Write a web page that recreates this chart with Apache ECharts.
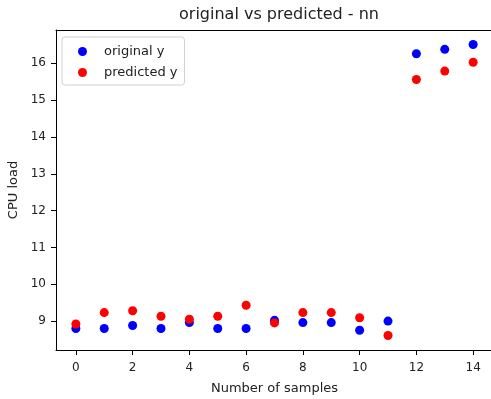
<!DOCTYPE html>
<html>
<head>
<meta charset="utf-8">
<script src="https://cdn.jsdelivr.net/npm/echarts@6/dist/echarts.min.js"></script>
<style>
  html, body { margin: 0; padding: 0; background: #fff; }
  #chart { width: 491px; height: 399px; }
</style>
</head>
<body>
<div id="chart"></div>
<script>
const samples = [0, 1, 2, 3, 4, 5, 6, 7, 8, 9, 10, 11, 12, 13, 14];
const originalY = [8.80, 8.80, 8.88, 8.80, 8.96, 8.80, 8.80, 9.02, 8.96, 8.96, 8.75, 9.00, 16.26, 16.38, 16.51];
const predictedY = [8.92, 9.23, 9.28, 9.13, 9.05, 9.13, 9.43, 8.95, 9.23, 9.23, 9.09, 8.61, 15.56, 15.79, 16.03];
const xTicks = [0, 2, 4, 6, 8, 10, 12, 14];
const yTicks = [9, 10, 11, 12, 13, 14, 15, 16];

const font = 'DejaVu Sans';
const ink = '#222';

const toPairs = (ys) => samples.map((x, i) => [x, ys[i]]);

const chart = echarts.init(document.getElementById('chart'), null, { renderer: 'canvas' });

const option = {
  backgroundColor: '#ffffff',
  animation: false,
  title: {
    text: 'original vs predicted - nn',
    left: 274,
    textAlign: 'center',
    top: 2,
    textStyle: { fontFamily: font, fontSize: 16, fontWeight: 'normal', color: ink }
  },
  legend: {
    orient: 'vertical',
    left: 62,
    top: 37,
    padding: [8, 7, 6, 16],
    itemGap: 8,
    itemWidth: 9,
    itemHeight: 9,
    borderColor: '#d0d0d0',
    borderWidth: 1,
    borderRadius: 3,
    icon: 'circle',
    textStyle: { fontFamily: font, fontSize: 13, color: ink, padding: [0, 0, 0, 12] },
    data: ['original y', 'predicted y']
  },
  grid: {
    left: 56,
    top: 30,
    width: 437,
    height: 320,
    outerBoundsMode: 'none'
  },
  xAxis: [
    {
      type: 'value',
      min: -0.7,
      max: 14.7,
      name: 'Number of samples',
      nameLocation: 'middle',
      nameGap: 32,
      nameTextStyle: { fontFamily: font, fontSize: 13, color: ink },
      splitLine: { show: false },
      axisLine: { onZero: false, lineStyle: { color: '#000' } },
      axisTick: { length: 5, lineStyle: { color: '#000' }, customValues: xTicks },
      axisLabel: { fontFamily: font, fontSize: 12, color: ink, margin: 12, customValues: xTicks }
    },
    {
      // top spine only
      type: 'value',
      position: 'top',
      min: -0.7,
      max: 14.7,
      splitLine: { show: false },
      axisLine: { onZero: false, lineStyle: { color: '#000' } },
      axisTick: { show: false },
      axisLabel: { show: false }
    }
  ],
  yAxis: {
    type: 'value',
    min: 8.215,
    max: 16.905,
    name: 'CPU load',
    nameLocation: 'middle',
    nameRotate: 90,
    nameGap: 28,
    nameTextStyle: { fontFamily: font, fontSize: 13, color: ink },
    splitLine: { show: false },
    axisLine: { show: true, onZero: false, lineStyle: { color: '#000' } },
    axisTick: { show: true, length: 5, lineStyle: { color: '#000' }, customValues: yTicks },
    axisLabel: { fontFamily: font, fontSize: 12, color: ink, margin: 10, customValues: yTicks }
  },
  series: [
    {
      name: 'original y',
      type: 'scatter',
      symbol: 'circle',
      symbolSize: 9,
      itemStyle: { color: '#0000ff', opacity: 1 },
      data: toPairs(originalY)
    },
    {
      name: 'predicted y',
      type: 'scatter',
      symbol: 'circle',
      symbolSize: 9,
      itemStyle: { color: '#ff0000', opacity: 1 },
      data: toPairs(predictedY)
    }
  ]
};

chart.setOption(option);
</script>
</body>
</html>
